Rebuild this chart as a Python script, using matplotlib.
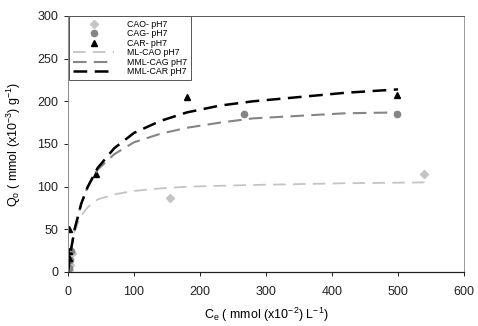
import matplotlib
matplotlib.use("Agg")
import matplotlib.pyplot as plt

plt.rcParams['font.family'] = ['Liberation Sans', 'DejaVu Sans']

# scatter data
cao_x = [1, 3, 6, 154, 540]
cao_y = [2, 8, 22, 87, 115]
cag_x = [1, 3, 5, 266, 499]
cag_y = [5, 14, 25, 185, 185]
car_x = [1, 2, 2, 43, 180, 499]
car_y = [16, 25, 50, 115, 205, 207]

# fitted curves
fit_c = [0, 2, 5, 10, 20, 30, 45, 70, 100, 140, 180, 230, 280, 350, 420, 500]
fit_car = [0, 12, 28, 50, 80, 100, 122, 145, 163, 177, 187, 195, 200, 205, 210, 214]
fit_cag = [0, 12, 28, 50, 80, 100, 120, 138, 152, 162, 169, 175, 180, 183, 186, 187]
fit_cao_c = [0, 2, 5, 10, 20, 30, 45, 70, 100, 140, 180, 230, 280, 350, 420, 540]
fit_cao = [0, 12, 28, 48, 66, 76, 85, 91, 95, 98, 100, 101, 102, 103, 104, 105]

labels = ['CAO- pH7', 'CAG- pH7', 'CAR- pH7', 'ML-CAO pH7', 'MML-CAG pH7', 'MML-CAR pH7']
xticks = [0, 100, 200, 300, 400, 500, 600]
yticks = [0, 50, 100, 150, 200, 250, 300]

c_light = '#c4c4c4'
c_mid = '#858585'
c_dark = '#000000'

fig = plt.figure(figsize=(4.78, 3.26), dpi=100)
ax = fig.add_axes([68/478, 54/326, (464-68)/478, (272-16)/326])

h1, = ax.plot(cao_x, cao_y, linestyle='none', marker='D', ms=4, color=c_light, label=labels[0])
h2, = ax.plot(cag_x, cag_y, linestyle='none', marker='o', ms=4.5, color=c_mid, label=labels[1])
h3, = ax.plot(car_x, car_y, linestyle='none', marker='^', ms=5, color=c_dark, label=labels[2])
h4, = ax.plot(fit_cao_c, fit_cao, linestyle=(0, (7, 4)), lw=1.3, color=c_light, label=labels[3])
h5, = ax.plot(fit_c, fit_cag, linestyle=(0, (6.5, 3.5)), lw=1.5, color=c_mid, label=labels[4])
h6, = ax.plot(fit_c, fit_car, linestyle=(0, (5.5, 3)), lw=1.8, color=c_dark, label=labels[5])

ax.set_xlim(0, 600)
ax.set_ylim(0, 300)
ax.set_xticks(xticks)
ax.set_yticks(yticks)
ax.tick_params(labelsize=9, length=3, width=0.7, direction='out', colors='#222222')
ax.tick_params(axis='x', pad=7)
ax.tick_params(axis='y', pad=4)
ax.spines['left'].set_color('#8a8a8a')
ax.spines['left'].set_linewidth(0.7)
ax.spines['right'].set_color('#9a9a9a')
ax.spines['right'].set_linewidth(0.7)
ax.spines['top'].set_color('#555555')
ax.spines['top'].set_linewidth(0.7)
ax.spines['bottom'].set_color('#222222')
ax.spines['bottom'].set_linewidth(0.9)

ax.set_xlabel(r'C$_\mathregular{e}$ ( mmol (x10$^\mathregular{-2}$) L$^\mathregular{-1}$)', fontsize=9, labelpad=6)
ax.set_ylabel(r'Q$_\mathregular{o}$ ( mmol (x10$^\mathregular{-3}$) g$^\mathregular{-1}$)', fontsize=9, labelpad=10)

leg = ax.legend(handles=[h1, h2, h3, h4, h5, h6], loc='upper left',
                bbox_to_anchor=(0.003, 1.0), fontsize=6.3, frameon=True, fancybox=False,
                edgecolor='#555555', framealpha=1, handlelength=4.7, handletextpad=1.5,
                labelspacing=0.05, borderpad=0.45, borderaxespad=0)
leg.get_frame().set_linewidth(0.7)

fig.savefig('out.png', dpi=100)
